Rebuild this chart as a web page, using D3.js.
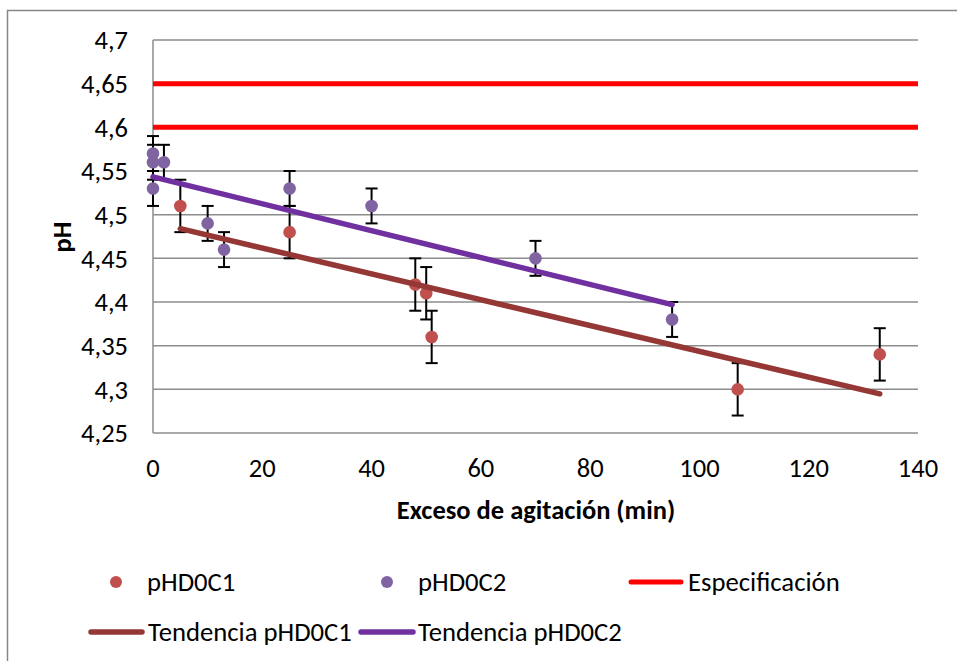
<!DOCTYPE html>
<html><head><meta charset="utf-8">
<script src="https://cdn.jsdelivr.net/npm/d3@7"></script>
<style>
body{margin:0;background:#fff;}
text{font-family:Carlito,Lato,"Open Sans",sans-serif;fill:#000;}
</style></head><body>
<svg id="chart" width="957" height="661"></svg>
<script>
// Data
const c1X = [5, 25, 48, 50, 51, 107, 133];
const c1Y = [4.51, 4.48, 4.42, 4.41, 4.36, 4.30, 4.34];
const c1Err = [0.03, 0.03, 0.03, 0.03, 0.03, 0.03, 0.03];
const c2X = [0, 0, 0, 2, 10, 13, 25, 40, 70, 95];
const c2Y = [4.57, 4.56, 4.53, 4.56, 4.49, 4.46, 4.53, 4.51, 4.45, 4.38];
const c2Err = [0.02, 0.02, 0.02, 0.02, 0.02, 0.02, 0.02, 0.02, 0.02, 0.02];
const specValues = [4.65, 4.6];
const specRange = [0, 140];
const xTicks = [0, 20, 40, 60, 80, 100, 120, 140];
const yTicks = [4.25, 4.3, 4.35, 4.4, 4.45, 4.5, 4.55, 4.6, 4.65, 4.7];
const xTitle = "Exceso de agitación (min)";
const yTitle = "pH";
const legendNames = ["pHD0C1", "pHD0C2", "Especificación", "Tendencia pHD0C1", "Tendencia pHD0C2"];

const col1 = "#C0504D", col2 = "#8064A2", colSpec = "#FF0000", colT1 = "#953735", colT2 = "#7030A0";

const svg = d3.select("#chart");
const L = 153, R = 918, T = 40, B = 433;
const x = d3.scaleLinear().domain([0, 140]).range([L, R]);
const y = d3.scaleLinear().domain([4.25, 4.7]).range([B, T]);
const tickFs = "26.5px", legFs = "26.7px", titleFs = "26.5px";

// outer frame
svg.append("path").attr("d", `M7.5,661 V10.5 H957`).attr("fill", "none").attr("stroke", "#878787").attr("stroke-width", 1.5);

// gridlines
svg.append("g").selectAll("line").data(yTicks).join("line")
  .attr("x1", L).attr("x2", R).attr("y1", d => y(d)).attr("y2", d => y(d))
  .attr("stroke", "#8c8c8c").attr("stroke-width", 1.5);
svg.append("line").attr("x1", L).attr("x2", L).attr("y1", T).attr("y2", B).attr("stroke", "#8c8c8c").attr("stroke-width", 1.5);

// y tick labels
svg.append("g").selectAll("text").data(yTicks).join("text")
  .attr("x", 128).attr("y", d => y(d)).attr("dy", "0.35em").attr("text-anchor", "end")
  .style("font-size", tickFs).text(d => d3.format(".2~f")(d).replace(".", ","));
// x tick labels
svg.append("g").selectAll("text").data(xTicks).join("text")
  .attr("x", d => x(d)).attr("y", 468).attr("dy", "0.35em").attr("text-anchor", "middle")
  .style("font-size", tickFs).text(d => d);

// axis titles
svg.append("text").attr("x", 536).attr("y", 510).attr("dy", "0.35em").attr("text-anchor", "middle")
  .style("font-size", titleFs).style("font-weight", "bold").text(xTitle);
svg.append("text").attr("transform", "translate(62,237) rotate(-90)").attr("dy", "0.35em").attr("text-anchor", "middle")
  .style("font-size", titleFs).style("font-weight", "bold").text(yTitle);

// spec lines
svg.append("g").selectAll("line").data(specValues).join("line")
  .attr("x1", x(specRange[0])).attr("x2", x(specRange[1])).attr("y1", d => y(d)).attr("y2", d => y(d))
  .attr("stroke", colSpec).attr("stroke-width", 5);

// regression (linear trend)
function fit(xs, ys) {
  const mx = d3.mean(xs), my = d3.mean(ys);
  let sxy = 0, sxx = 0;
  xs.forEach((v, i) => { sxy += (v - mx) * (ys[i] - my); sxx += (v - mx) * (v - mx); });
  const b = sxy / sxx, a = my - b * mx;
  const x0 = d3.min(xs), x1 = d3.max(xs);
  return [[x0, a + b * x0], [x1, a + b * x1]];
}
const line = d3.line().x(d => x(d[0])).y(d => y(d[1]));

// error bars
function errBars(xs, ys, es) {
  const g = svg.append("g").attr("stroke", "#000").attr("stroke-width", 2);
  xs.forEach((v, i) => {
    const cx = x(v), yt = y(ys[i] + es[i]), yb = y(ys[i] - es[i]);
    g.append("line").attr("x1", cx).attr("x2", cx).attr("y1", yt).attr("y2", yb);
    g.append("line").attr("x1", cx - 6).attr("x2", cx + 6).attr("y1", yt).attr("y2", yt);
    g.append("line").attr("x1", cx - 6).attr("x2", cx + 6).attr("y1", yb).attr("y2", yb);
  });
}
errBars(c1X, c1Y, c1Err);
errBars(c2X, c2Y, c2Err);

// points
svg.append("g").selectAll("circle").data(c1X).join("circle")
  .attr("cx", d => x(d)).attr("cy", (d, i) => y(c1Y[i])).attr("r", 6.3).attr("fill", col1);
svg.append("g").selectAll("circle").data(c2X).join("circle")
  .attr("cx", d => x(d)).attr("cy", (d, i) => y(c2Y[i])).attr("r", 6.3).attr("fill", col2);

// trend lines
svg.append("path").attr("d", line(fit(c1X, c1Y))).attr("stroke", colT1).attr("stroke-width", 5.5).attr("fill", "none").attr("stroke-linecap", "round");
svg.append("path").attr("d", line(fit(c2X, c2Y))).attr("stroke", colT2).attr("stroke-width", 5.5).attr("fill", "none").attr("stroke-linecap", "round");

// legend
const lg = svg.append("g");
lg.append("circle").attr("cx", 116).attr("cy", 582).attr("r", 6).attr("fill", col1);
lg.append("text").attr("x", 147).attr("y", 582).attr("dy", "0.35em").style("font-size", legFs).text(legendNames[0]);
lg.append("circle").attr("cx", 387).attr("cy", 582).attr("r", 6).attr("fill", col2);
lg.append("text").attr("x", 418).attr("y", 582).attr("dy", "0.35em").style("font-size", legFs).text(legendNames[1]);
lg.append("line").attr("x1", 631).attr("x2", 681).attr("y1", 582).attr("y2", 582).attr("stroke", colSpec).attr("stroke-width", 5).attr("stroke-linecap", "round");
lg.append("text").attr("x", 688).attr("y", 582).attr("dy", "0.35em").style("font-size", legFs).text(legendNames[2]);
lg.append("line").attr("x1", 91).attr("x2", 142).attr("y1", 632).attr("y2", 632).attr("stroke", colT1).attr("stroke-width", 5.5).attr("stroke-linecap", "round");
lg.append("text").attr("x", 148).attr("y", 632).attr("dy", "0.35em").style("font-size", legFs).text(legendNames[3]);
lg.append("line").attr("x1", 361).attr("x2", 413).attr("y1", 632).attr("y2", 632).attr("stroke", colT2).attr("stroke-width", 5.5).attr("stroke-linecap", "round");
lg.append("text").attr("x", 418).attr("y", 632).attr("dy", "0.35em").style("font-size", legFs).text(legendNames[4]);
</script>
</body></html>
